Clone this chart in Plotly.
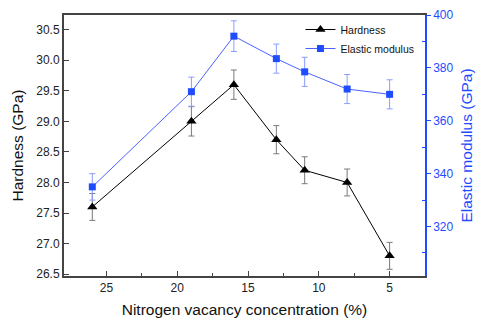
import plotly.graph_objects as go

vacancy = [26, 19, 16, 13, 11, 8, 5]
hardness = [27.6, 29.0, 29.6, 28.7, 28.2, 28.0, 26.8]
hardness_err = [0.22, 0.24, 0.24, 0.23, 0.22, 0.22, 0.22]
modulus = [335, 371, 392, 383.5, 378.5, 372, 370]
modulus_err = [5, 5.5, 5.8, 5.5, 5.5, 5.5, 5.5]

font = "Liberation Sans, Arial, sans-serif"
axis_gray = "#444444"
blue = "#1f4cff"

fig = go.Figure()
fig.add_trace(go.Scatter(
    x=vacancy, y=hardness, name="Hardness", mode="lines+markers",
    line=dict(color="#000000", width=1),
    marker=dict(symbol="triangle-up", size=9, color="#000000"),
    error_y=dict(type="data", array=hardness_err, color="#7a7a7a", thickness=1, width=3),
))
fig.add_trace(go.Scatter(
    x=vacancy, y=modulus, name="Elastic modulus", mode="lines+markers", yaxis="y2",
    line=dict(color="#4a63ff", width=1),
    marker=dict(symbol="square", size=7, color=blue),
    error_y=dict(type="data", array=modulus_err, color="#8a9cff", thickness=1, width=3),
))

fig.update_layout(
    width=481, height=324,
    margin=dict(l=64, r=56, t=8, b=47),
    paper_bgcolor="white", plot_bgcolor="white",
    font=dict(family=font, size=12, color="#222222"),
    showlegend=True,
    legend=dict(x=0.655, y=1.0, xanchor="left", yanchor="top",
                bgcolor="rgba(0,0,0,0)", font=dict(size=10.5, color="#111111"),
                tracegroupgap=0, itemwidth=30),
    xaxis=dict(
        range=[28, 2.5], tickvals=[25, 20, 15, 10, 5],
        ticks="inside", ticklen=5, tickwidth=1, tickcolor=axis_gray,
        minor=dict(tickvals=[22.5, 17.5, 12.5, 7.5], ticks="inside", ticklen=3, tickcolor=axis_gray),
        showline=True, linecolor=axis_gray, linewidth=2, mirror=True,
        showgrid=False, zeroline=False,
        title=dict(text="Nitrogen vacancy concentration (%)", font=dict(size=15.5, color="#111111"), standoff=10),
        tickfont=dict(size=12, color="#222222"),
    ),
    yaxis=dict(
        range=[26.47, 30.74], tickvals=[26.5, 27.0, 27.5, 28.0, 28.5, 29.0, 29.5, 30.0, 30.5],
        ticktext=["26.5", "27.0", "27.5", "28.0", "28.5", "29.0", "29.5", "30.0", "30.5"],
        ticks="inside", ticklen=5, tickwidth=1, tickcolor=axis_gray,
        showline=True, linecolor=axis_gray, linewidth=2,
        showgrid=False, zeroline=False,
        title=dict(text="Hardness (GPa)", font=dict(size=15.5, color="#111111"), standoff=9),
        tickfont=dict(size=12, color="#222222"),
    ),
    yaxis2=dict(
        range=[301.3, 400], overlaying="y", side="right",
        tickvals=[320, 340, 360, 380, 400],
        ticks="outside", ticklen=4, tickwidth=1, tickcolor=blue,
        minor=dict(tickvals=[310, 330, 350, 370, 390], ticks="inside", ticklen=3, tickcolor=blue),
        showline=True, linecolor=blue, linewidth=1.5,
        showgrid=False, zeroline=False,
        title=dict(text="Elastic modulus (GPa)", font=dict(size=15.5, color=blue), standoff=9),
        tickfont=dict(size=12, color=blue),
    ),
)

fig.write_html("out.html")
